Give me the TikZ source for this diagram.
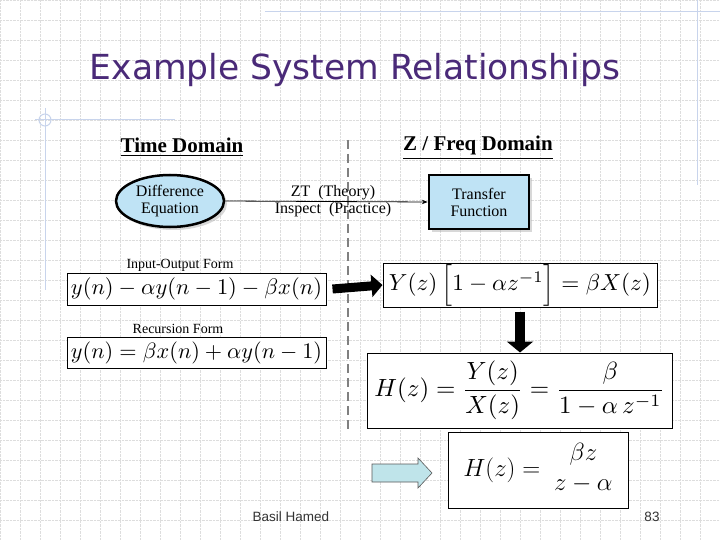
\documentclass[tikz,border=0pt]{standalone}
\usepackage{fontspec}
\usepackage{amsmath}
\setmainfont{Liberation Serif}
\newfontfamily\titlefont{DejaVu Sans}
\newfontfamily\footfont{Liberation Sans}
\usetikzlibrary{arrows.meta,shapes.geometric,shadows}
\definecolor{titlecol}{HTML}{4A2A78}
\definecolor{lblue}{HTML}{BFE3F5}
\definecolor{arrblue}{HTML}{BFE4EA}
\definecolor{gridc}{HTML}{DDDDDD}
\definecolor{deco}{HTML}{C8D4EC}
\tikzset{
  eqbox/.style={draw=black,line width=1pt,fill=white,inner sep=0pt},
  hdr/.style={font=\bfseries\fontsize{21}{24}\selectfont},
  small/.style={font=\fontsize{16}{17}\selectfont},
  formlbl/.style={font=\fontsize{14}{15}\selectfont},
  shade/.style={drop shadow={shadow xshift=3pt,shadow yshift=-3pt,fill=gray!60}}
}
\begin{document}
\begin{tikzpicture}[x=1pt,y=-1pt]
\useasboundingbox (0,0) rectangle (720,540);
\fill[white] (0,0) rectangle (720,540);
% grid
\foreach \i in {0,20,...,720} \draw[gridc,densely dotted,line width=0.4pt] (\i,0) -- (\i,540);
\foreach \j in {0,20,...,540} \draw[gridc,densely dotted,line width=0.4pt] (0,\j) -- (720,\j);
% decoration
\draw[deco,line width=1pt] (265,12) -- (720,12);
\draw[deco,line width=1pt] (697,0) -- (697,185);
\draw[deco,line width=1pt] (45,108) -- (45,290);
\draw[deco,line width=1pt] (35,120) -- (175,120);
\draw[deco,line width=1pt] (45,120) circle (6);
% title
\node[text=titlecol,font=\titlefont\fontsize{34.5}{38}\selectfont] (title) at (355,70) {Example System Relationships};
% divider
\draw[gray,line width=2.5pt,dash pattern=on 9pt off 5pt] (348,140) -- (348,433);
% headers
\node[hdr] (td) at (182,147) {\underline{Time Domain}};
\node[hdr] (fd) at (478,148) {\underline{Z / Freq Domain}};
% ellipse & box
\node[ellipse,draw,line width=2.5pt,fill=lblue,minimum width=108pt,minimum height=52pt,inner sep=0pt,align=center,small,shade] (de) at (170,201) {Difference\\Equation};
\node[draw,line width=2.5pt,fill=lblue,minimum width=100pt,minimum height=54pt,align=center,small,shade] (tf) at (479,202) {Transfer\\Function};
\draw[-{Stealth[length=6pt]},line width=0.8pt] (de.east) -- (tf.west);
\node[small] (zt) at (333,193) {ZT\ \ (Theory)};
\node[small] (insp) at (333,210) {Inspect\ \ (Practice)};
% forms
\node[formlbl] (iof) at (180,265) {Input-Output Form};
\node[eqbox,minimum width=259pt,minimum height=32pt] (eq1) at (196.5,289) {\resizebox{251pt}{!}{$y(n)-\alpha y(n-1)-\beta x(n)$}};
\node[formlbl] (rf) at (178,329) {Recursion Form};
\node[eqbox,minimum width=259pt,minimum height=31pt] (eq2) at (196.5,352.5) {\resizebox{251pt}{!}{$y(n)=\beta x(n)+\alpha y(n-1)$}};
\node[eqbox,minimum width=274pt,minimum height=44pt] (eq3) at (520,285) {\resizebox{262pt}{!}{$Y(z)\left[1-\alpha z^{-1}\vphantom{X^{X^X}_{X_X}}\right]=\beta X(z)$}};
\node[eqbox,minimum width=305pt,minimum height=75pt] (eq4) at (519.5,390.5) {\resizebox{290pt}{!}{$H(z)=\dfrac{Y(z)}{X(z)}=\dfrac{\beta}{1-\alpha\, z^{-1}}$}};
\node[eqbox,minimum width=180pt,minimum height=76pt] (eq5) at (538,470) {\fontsize{24}{26}\selectfont$H(z)=\;\begin{matrix}\beta z\\[4pt] z-\alpha\end{matrix}$};
% arrows
\draw[-{Triangle[length=11pt,width=22pt]},line width=9pt] (eq1.east) ++(6,0) -- (eq3.west);
\draw[-{Triangle[length=11pt,width=26pt]},line width=10pt] (eq3.south -| 520,0) ++(0,4) coordinate (d1) -- (eq4.north -| 520,0);
\draw[draw=gray!70!black,fill=arrblue,line width=0.6pt] (372,464) -- (418,464) -- (418,458) -- (432,473) -- (418,488) -- (418,482) -- (372,482) -- cycle;
% footer
\node[font=\footfont\fontsize{13.5}{15}\selectfont,text=black!80] (ft) at (291,517) {Basil Hamed};
\node[font=\footfont\fontsize{13.5}{15}\selectfont,text=black!80] (pg) at (652,517) {83};
\end{tikzpicture}
\end{document}
